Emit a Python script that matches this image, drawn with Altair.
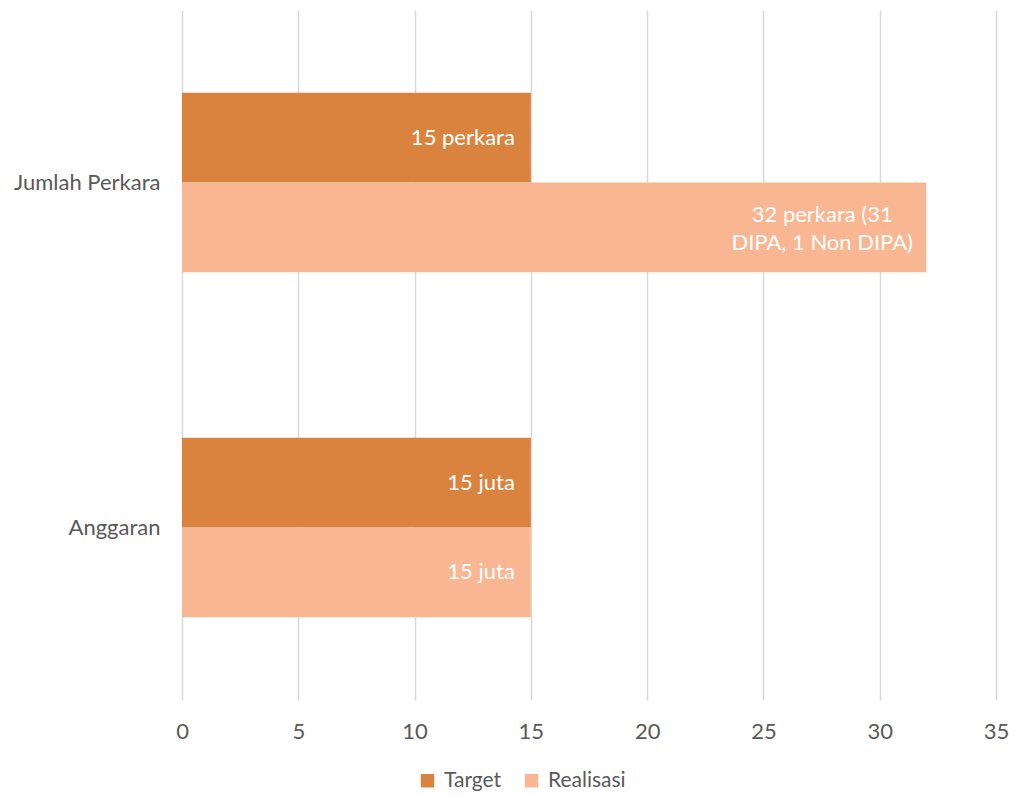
import altair as alt
import pandas as pd

categories = ["Jumlah Perkara", "Anggaran"]
series = ["Target", "Realisasi"]
target_values = [15, 15]
realisasi_values = [32, 15]
target_labels = ["15 perkara", "15 juta"]
realisasi_labels = ["32 perkara (31\nDIPA, 1 Non DIPA)", "15 juta"]
x_ticks = [0, 5, 10, 15, 20, 25, 30, 35]
colors = ["#DA833E", "#F8B692"]

rows = []
for i, c in enumerate(categories):
    rows.append({"category": c, "series": "Target", "value": target_values[i],
                 "label": target_labels[i]})
    rows.append({"category": c, "series": "Realisasi", "value": realisasi_values[i],
                 "label": realisasi_labels[i]})
df = pd.DataFrame(rows)
df["multi"] = df["label"].str.contains("\n")

FONT = "Lato"
FS = 22

y_enc = alt.Y("category:N", sort=categories,
              scale=alt.Scale(paddingInner=0.48, paddingOuter=0.24),
              axis=alt.Axis(title=None, labelFontSize=FS, labelColor="#595959",
                            labelFont=FONT, ticks=False, domain=False, grid=False,
                            labelPadding=22, minExtent=174, maxExtent=174))
yoff = alt.YOffset("series:N", sort=series, scale=alt.Scale(domain=series, paddingInner=0, paddingOuter=0))
x_enc = alt.X("value:Q", scale=alt.Scale(domain=[0, 35], nice=False),
              axis=alt.Axis(title=None, values=x_ticks, labelFontSize=FS, labelColor="#595959",
                            labelFont=FONT, ticks=False, domain=False, grid=True, labelFlush=False,
                            gridColor="#D9D9D9", gridWidth=1.5, labelPadding=21))

base = alt.Chart(df)

bars = base.mark_bar(cornerRadius=0).encode(
    y=y_enc, yOffset=yoff, x=x_enc,
    color=alt.Color("series:N", sort=series,
                    scale=alt.Scale(domain=series, range=colors),
                    legend=alt.Legend(title=None, orient="none", direction="horizontal",
                                      legendX=235, legendY=760, labelFontSize=21,
                                      labelFont=FONT, labelColor="#595959",
                                      symbolType="square", symbolSize=180,
                                      symbolStrokeWidth=0, columnPadding=19,
                                      labelOffset=6))
)

text_single = base.transform_filter("!datum.multi").mark_text(
    align="right", baseline="middle", dx=-16, fontSize=FS, font=FONT, color="white"
).encode(y=y_enc, yOffset=yoff, x="value:Q", text="label:N")

text_multi = base.transform_filter("datum.multi").mark_text(
    align="center", baseline="middle", dx=-104, dy=-12, fontSize=FS, font=FONT, color="white",
    lineBreak="\n", lineHeight=28
).encode(y=y_enc, yOffset=yoff, x="value:Q", text="label:N")

chart = alt.layer(bars, text_single, text_multi).properties(
    width=814, height=690,
    padding={"left": 0, "top": 2, "right": 0, "bottom": 0},
    background="white"
).configure_view(stroke=None)

chart.save("out.html", embed_options={"renderer": "svg", "actions": False})
